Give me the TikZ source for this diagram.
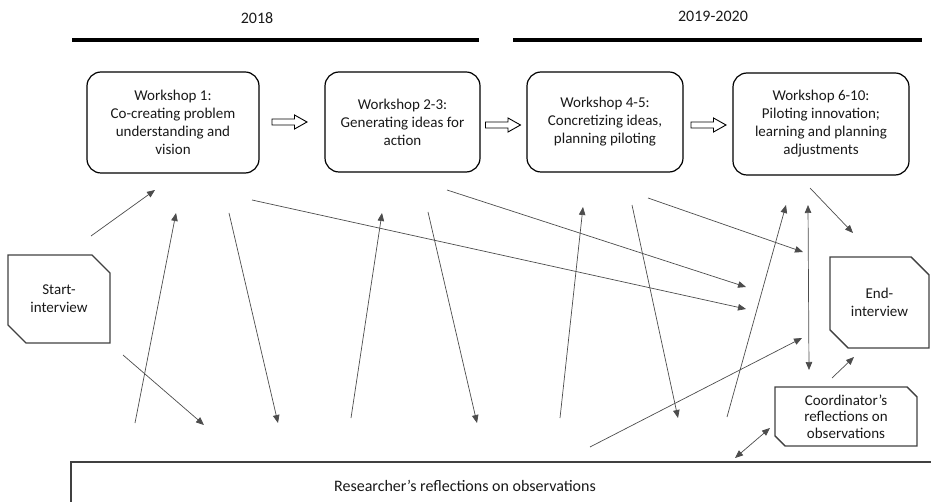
\documentclass[tikz,border=0pt]{standalone}
\usepackage{fontspec}
\setmainfont{Carlito}
\usetikzlibrary{arrows.meta,shapes.misc}

\tikzset{
  txt/.style={text=black!90, font=\fontsize{15}{18}\selectfont, align=center, inner sep=0pt},
  ws/.style={txt, draw=black, line width=1.2pt, rounded corners=14pt},
  cham/.style={txt, chamfered rectangle, draw=black!75, line width=1.4pt,
    chamfered rectangle xsep=9pt, chamfered rectangle ysep=9pt},
  year/.style={text=black!90, font=\fontsize{16}{19}\selectfont, inner sep=0pt},
  yearbar/.style={line width=4pt, black},
  flow/.style={draw=black!70, line width=0.7pt, -{Triangle[length=8pt,width=6.5pt]}},
  both/.style={draw=black!70, line width=0.7pt,
    {Triangle[length=8pt,width=6.5pt]}-{Triangle[length=8pt,width=6.5pt]}},
  hollowarrow/.style={draw=black, line width=0.9pt, line join=miter, fill=white},
}

\begin{document}
\begin{tikzpicture}[x=1pt,y=-1pt]
\useasboundingbox (0,0) rectangle (931,502);
\clip (0,0) rectangle (931,502);

% time line
\node[year] (y1) at (257,18) {2018};
\node[year] (y2) at (713,16) {2019-2020};
\coordinate (b1l) at (72,40);  \coordinate (b1r) at (479,40);
\coordinate (b2l) at (513,40); \coordinate (b2r) at (922,40);
\draw[yearbar] (b1l) -- (b1r);
\draw[yearbar] (b2l) -- (b2r);

% workshops
\node[ws, minimum width=172pt, minimum height=101pt] (w1) at (173,122.5)
  {Workshop 1:\\Co-creating problem\\understanding and\\vision};
\node[ws, minimum width=155pt, minimum height=100pt] (w2) at (402.5,122)
  {Workshop 2-3:\\Generating ideas for\\action};
\node[ws, minimum width=156pt, minimum height=100pt] (w3) at (605,122)
  {Workshop 4-5:\\Concretizing ideas,\\planning piloting};
\node[ws, minimum width=176pt, minimum height=102pt] (w4) at (821,124)
  {Workshop 6-10:\\Piloting innovation;\\learning and planning\\adjustments};

% hollow arrows between the workshops
\coordinate (h12) at (289.5,122);
\coordinate (h23) at (503,125);
\coordinate (h34) at (708.5,125);
\foreach \h in {h12,h23,h34}
  \draw[hollowarrow, shift={(\h)}]
    (-17.5,-3) -- (5,-3) -- (5,-7) -- (17.5,0) -- (5,7) -- (5,3) -- (-17.5,3) -- cycle;

% interviews and reflections
\node[cham, chamfered rectangle corners={north east,south west},
  minimum width=102pt, minimum height=88pt] (start) at (59,299) {Start-\\interview};
\node[cham, chamfered rectangle corners={north east,south west},
  minimum width=99pt, minimum height=91pt] (end) at (879.5,302.5) {End-\\interview};
\node[cham, chamfered rectangle corners={north east,south west},
  chamfered rectangle xsep=5pt, chamfered rectangle ysep=5pt,
  font=\fontsize{15}{16.5}\selectfont,
  minimum width=142pt, minimum height=59pt] (coord) at (846,416.5)
  {Coordinator’s\\reflections on\\observations};
\node[cham, chamfered rectangle corners={south west},
  chamfered rectangle xsep=8pt, chamfered rectangle ysep=8pt,
  minimum width=919pt, minimum height=44pt] (research) at (530.5,484) {};
\node[txt, font=\fontsize{16}{19}\selectfont] (researchtext) at (465,486)
  {Researcher’s reflections on observations};

% connector end points
\coordinate (a1s) at (91,236);   \coordinate (a1e) at (155,190);
\coordinate (a2s) at (123,355);  \coordinate (a2e) at (204,425);
\coordinate (a3s) at (135,423);  \coordinate (a3e) at (176,213);
\coordinate (a4s) at (229,213);  \coordinate (a4e) at (278,423);
\coordinate (a5s) at (252,200);  \coordinate (a5e) at (746,309);
\coordinate (a6s) at (351,418);  \coordinate (a6e) at (382,213);
\coordinate (a7s) at (428,212);  \coordinate (a7e) at (477,423);
\coordinate (a8s) at (447,190);  \coordinate (a8e) at (746,287);
\coordinate (a9s) at (560,418);  \coordinate (a9e) at (583,207);
\coordinate (a10s) at (632,205); \coordinate (a10e) at (678,418);
\coordinate (a11s) at (648,198); \coordinate (a11e) at (803,252);
\coordinate (a12s) at (727,417); \coordinate (a12e) at (786,205);
\coordinate (a13s) at (808,205); \coordinate (a13e) at (809,370);
\coordinate (a14s) at (810,188); \coordinate (a14e) at (853,233);
\coordinate (a15s) at (590,447); \coordinate (a15e) at (802,338);
\coordinate (a16s) at (832,378); \coordinate (a16e) at (854,357);
\coordinate (a17s) at (735,458); \coordinate (a17e) at (770,428);

% connectors
\draw[flow] (a1s) -- (a1e);
\draw[flow] (a2s) -- (a2e);
\draw[flow] (a3s) -- (a3e);
\draw[flow] (a4s) -- (a4e);
\draw[flow] (a5s) -- (a5e);
\draw[flow] (a6s) -- (a6e);
\draw[flow] (a7s) -- (a7e);
\draw[flow] (a8s) -- (a8e);
\draw[flow] (a9s) -- (a9e);
\draw[flow] (a10s) -- (a10e);
\draw[flow] (a11s) -- (a11e);
\draw[flow] (a12s) -- (a12e);
\draw[both] (a13s) -- (a13e);
\draw[flow] (a14s) -- (a14e);
\draw[flow] (a15s) -- (a15e);
\draw[flow] (a16s) -- (a16e);
\draw[both] (a17s) -- (a17e);
\end{tikzpicture}
\end{document}
